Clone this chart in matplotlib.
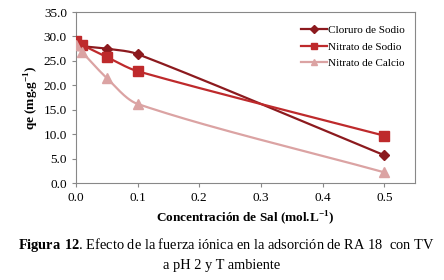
import numpy as np
import matplotlib
matplotlib.use("Agg")
import matplotlib.pyplot as plt
from matplotlib.lines import Line2D

plt.rcParams['font.family'] = ['Liberation Serif', 'DejaVu Serif']
plt.rcParams['mathtext.fontset'] = 'custom'
plt.rcParams['mathtext.rm'] = 'Liberation Serif'
plt.rcParams['mathtext.bf'] = 'Liberation Serif:bold'

conc = [0.0, 0.01, 0.05, 0.1, 0.5]
cloruro_sodio = [28.2, 28.0, 27.5, 26.4, 5.7]
nitrato_sodio = [29.1, 28.3, 25.8, 22.9, 9.7]
nitrato_calcio = [28.3, 26.8, 21.5, 16.2, 2.2]

series = [
    ("Cloruro de Sodio", cloruro_sodio, "#8C1A1E", "D", 5),
    ("Nitrato de Sodio", nitrato_sodio, "#BE2A2C", "s", 7),
    ("Nitrato de Calcio", nitrato_calcio, "#DBA3A3", "^", 7),
]


def smooth(x, y, sx, sy, n=40):
    # smoothed line like excel: bezier with tangents scaled to each segment
    p = np.column_stack([np.asarray(x) / sx, np.asarray(y) / sy])
    m = len(p)
    tang = []
    for i in range(m):
        a = p[max(i - 1, 0)]
        b = p[min(i + 1, m - 1)]
        d = b - a
        tang.append(d / np.linalg.norm(d))
    out = [p[0]]
    for i in range(m - 1):
        p1, p2 = p[i], p[i + 1]
        L = np.linalg.norm(p2 - p1)
        c1 = p1 + tang[i] * L * 0.3
        c2 = p2 - tang[i + 1] * L * 0.3
        t = np.linspace(0, 1, n)[1:, None]
        b = ((1 - t) ** 3) * p1 + 3 * ((1 - t) ** 2) * t * c1 + 3 * (1 - t) * t ** 2 * c2 + t ** 3 * p2
        out.extend(b)
    out = np.array(out)
    return out[:, 0] * sx, out[:, 1] * sy


fig = plt.figure(figsize=(4.44, 2.80), dpi=100)
ax = fig.add_axes([0.171, 0.346, 0.764, 0.611])

handles = []
for name, vals, col, mk, ms in series:
    xs, ys = smooth(conc, vals, 0.55 / 339, 35 / 171)
    ax.plot(xs, ys, color=col, lw=1.6, zorder=2)
    ax.plot(conc, vals, ls='none', marker=mk, color=col, ms=ms, zorder=3)
    handles.append(Line2D([], [], color=col, lw=1.6, marker=mk, ms=4))

ax.set_xlim(0, 0.55)
ax.set_ylim(0, 35)
ax.set_xticks([0.0, 0.1, 0.2, 0.3, 0.4, 0.5])
ax.set_xticklabels(["0.0", "0.1", "0.2", "0.3", "0.4", "0.5"])
ax.set_yticks(np.arange(0, 36, 5))
ax.set_yticklabels([f"{v:.1f}" for v in np.arange(0, 36, 5)])
ax.tick_params(labelsize=9.5, length=3, color="#888888", width=0.8)
for s in ax.spines.values():
    s.set_color("#888888")
    s.set_linewidth(0.8)

ax.set_xlabel("Concentración de Sal (mol.L$^{\\mathregular{-1}}$)", fontsize=9.5,
              fontweight='bold', labelpad=4)
ax.set_ylabel("qe (mg.g$^{\\mathregular{-1}}$)", fontsize=9.5, fontweight='bold', labelpad=2)

leg = ax.legend(handles, [s[0] for s in series], loc='upper right', fontsize=8,
                frameon=False, handlelength=2.4, handletextpad=0.1, labelspacing=0.6,
                bbox_to_anchor=(1.0, 0.98))

fig.text(0.51, 0.11, r"$\mathbf{Figura\ 12}$. Efecto de la fuerza iónica en la adsorción de RA 18  con TV",
         ha='center', fontsize=10.4)
fig.text(0.5, 0.04, "a pH 2 y T ambiente", ha='center', fontsize=10.4)

fig.savefig("out.png", dpi=100)
